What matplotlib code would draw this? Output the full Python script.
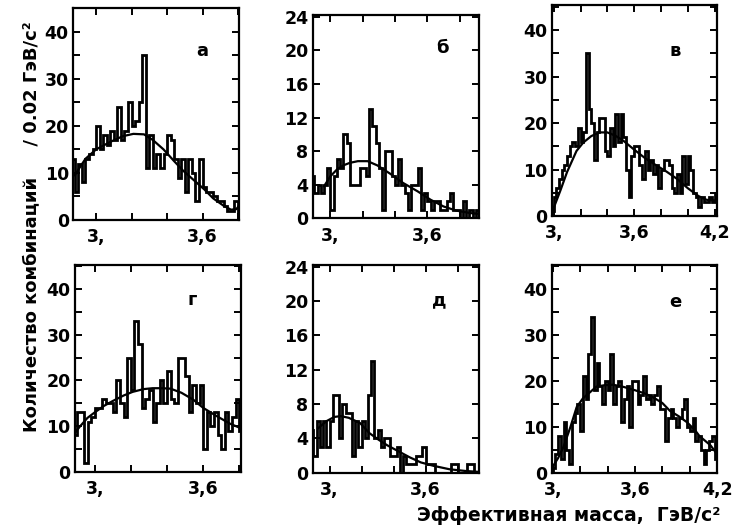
import numpy as np
import matplotlib
matplotlib.use("Agg")
import matplotlib.pyplot as plt

plt.rcParams["font.family"] = ["DejaVu Sans"]

# counts per 0.02 GeV bin
a_start = 2.86
a_counts = [13, 6, 12, 8, 13, 14, 15, 20, 15, 18, 16, 19, 17, 24, 17, 19, 25, 20, 21, 25,
            35, 11, 18, 11, 14, 11, 14, 18, 17, 13, 9, 13, 6, 13, 10, 4, 13, 7, 6, 6,
            5, 4, 4, 3, 2, 2, 4]
a_fit_x = [2.88, 2.905, 2.94, 3.0, 3.08, 3.15, 3.21, 3.27, 3.32, 3.38, 3.44, 3.49, 3.55,
           3.61, 3.66, 3.72, 3.76, 3.79, 3.805]
a_fit_y = [9.5, 11, 13, 15, 16.6, 17.8, 18.3, 18.2, 17, 15, 12.5, 10.5, 8.5, 6.5, 4.6,
           3.0, 2.2, 2.3, 3.0]

b_start = 2.88
b_counts = [5, 3, 4, 3, 4, 6, 1, 5, 7, 6, 10, 9, 4, 4, 4, 6, 6, 5, 13, 11,
            9, 6, 1, 8, 8, 5, 4, 7, 4, 3, 1, 4, 4, 6, 1, 3, 2, 1, 2, 2,
            1, 1, 2, 3, 1, 1, 0, 2, 0, 1, 0, 1]
b_fit_x = [2.96, 3.0, 3.04, 3.08, 3.12, 3.17, 3.23, 3.29, 3.37, 3.45, 3.54, 3.62, 3.70,
           3.78, 3.87, 3.93]
b_fit_y = [3.8, 5.0, 5.8, 6.3, 6.6, 6.8, 6.8, 6.3, 5.3, 4.2, 3.2, 2.2, 1.4, 0.9, 0.6, 0.5]

c_start = 2.98
c_counts = [1, 4, 6, 8, 10, 11, 13, 15, 16, 15, 19, 16, 18, 35, 23, 20, 12, 18, 21, 21,
            14, 13, 19, 15, 22, 16, 22, 17, 10, 4, 13, 15, 15, 11, 8, 14, 10, 12, 9, 11,
            6, 10, 12, 12, 11, 6, 5, 9, 5, 13, 7, 13, 10, 5, 4, 2, 4, 3, 3, 4,
            3, 5]
c_fit_x = [2.99, 3.05, 3.10, 3.17, 3.22, 3.28, 3.34, 3.40, 3.46, 3.52, 3.60, 3.68, 3.76,
           3.84, 3.92, 4.00, 4.08, 4.14, 4.22]
c_fit_y = [1.0, 5.5, 9.5, 14, 15.8, 17.2, 18, 18, 17.3, 16.2, 14.3, 12.5, 11, 9.6, 8, 6,
           4.3, 3.5, 3.3]

g_start = 2.88
g_counts = [8, 13, 13, 2, 11, 12, 14, 14, 16, 15, 15, 13, 20, 15, 12, 25, 18, 33, 28, 14,
            16, 18, 11, 15, 20, 15, 22, 16, 15, 25, 25, 21, 13, 19, 15, 19, 5, 13, 10, 13,
            8, 5, 13, 9, 12, 16, 9]
g_fit_x = [2.89, 2.92, 2.96, 3.0, 3.05, 3.10, 3.16, 3.21, 3.27, 3.32, 3.37, 3.42, 3.48,
           3.545, 3.60, 3.67, 3.75, 3.81]
g_fit_y = [8.5, 10, 11.8, 13, 14.4, 15.5, 16.7, 17.5, 18.1, 18.3, 18.3, 18.2, 17.3,
           15.8, 14, 12.3, 10.5, 9.5]

d_start = 2.88
d_counts = [5, 2, 6, 3, 6, 3, 6, 9, 9, 4, 8, 7, 7, 2, 6, 3, 6, 4, 9, 13,
            4, 5, 3, 4, 4, 2, 2, 3, 0, 2, 1, 1, 1, 2, 2, 3, 1, 1, 1, 0,
            0, 0, 0, 0, 1, 1, 0, 0, 0, 1, 1, 0]
d_fit_x = [2.93, 2.98, 3.03, 3.07, 3.12, 3.19, 3.25, 3.31, 3.36, 3.43, 3.50, 3.57, 3.65,
           3.75, 3.85, 3.93]
d_fit_y = [5.2, 6.0, 6.5, 6.6, 6.4, 5.8, 4.6, 3.8, 3.2, 2.5, 1.8, 1.2, 0.8, 0.4, 0.2, 0.1]

e_start = 3.00
e_counts = [1, 4, 8, 3, 11, 5, 2, 11, 13, 15, 9, 21, 16, 26, 34, 18, 24, 19, 15, 20,
            18, 26, 15, 19, 20, 11, 16, 19, 10, 20, 20, 15, 17, 21, 16, 17, 15, 17, 19, 14,
            14, 7, 12, 14, 12, 10, 12, 14, 16, 10, 9, 12, 7, 8, 5, 2, 5, 7, 8, 3]
e_fit_x = [3.0, 3.04, 3.08, 3.13, 3.175, 3.22, 3.27, 3.32, 3.38, 3.44, 3.52, 3.60, 3.67,
           3.73, 3.80, 3.855, 3.92, 3.98, 4.04, 4.07, 4.11, 4.15, 4.2]
e_fit_y = [1.3, 3.2, 5.7, 10, 14.3, 16.2, 17.5, 18.8, 19.1, 19.2, 18.7, 18, 17.3, 16.5,
           15.2, 13.5, 12.3, 11, 9.2, 8, 7, 6, 4]

letters = ["а", "б", "в", "г", "д", "е"]

# axes rectangles (fig fraction) and limits
panels = [
    dict(rect=[0.0995, 0.5825, 0.226, 0.402], xlim=(2.87, 3.805), ylim=(0, 45), yt=10, ym=5,
         start=a_start, counts=a_counts, fx=a_fit_x, fy=a_fit_y, lx=0.78, ly=0.80),
    dict(rect=[0.426, 0.586, 0.2266, 0.385], xlim=(2.89, 3.92), ylim=(0, 24.2), yt=4, ym=None,
         start=b_start, counts=b_counts, fx=b_fit_x, fy=b_fit_y, lx=0.78, ly=0.84),
    dict(rect=[0.7516, 0.590, 0.2256, 0.4004], xlim=(2.985, 4.22), ylim=(0, 45.4), yt=10, ym=5,
         start=c_start, counts=c_counts, fx=c_fit_x, fy=c_fit_y, lx=0.745, ly=0.78),
    dict(rect=[0.102, 0.105, 0.2257, 0.392], xlim=(2.89, 3.807), ylim=(0, 45.3), yt=10, ym=5,
         start=g_start, counts=g_counts, fx=g_fit_x, fy=g_fit_y, lx=0.71, ly=0.83),
    dict(rect=[0.426, 0.103, 0.227, 0.394], xlim=(2.895, 3.935), ylim=(0, 24.2), yt=4, ym=None,
         start=d_start, counts=d_counts, fx=d_fit_x, fy=d_fit_y, lx=0.76, ly=0.83),
    dict(rect=[0.7516, 0.103, 0.2256, 0.394], xlim=(2.993, 4.2), ylim=(0, 45.3), yt=10, ym=5,
         start=e_start, counts=e_counts, fx=e_fit_x, fy=e_fit_y, lx=0.745, ly=0.82),
]

fig = plt.figure(figsize=(7.34, 5.27), dpi=100)

for p, letter in zip(panels, letters):
    ax = fig.add_axes(p["rect"])
    counts = np.array(p["counts"])
    edges = p["start"] + 0.02 * np.arange(len(counts) + 1)
    ax.stairs(counts, edges, color="black", lw=2.0)
    ax.plot(p["fx"], p["fy"], color="black", lw=1.6)
    ax.set_xlim(*p["xlim"])
    ax.set_ylim(*p["ylim"])

    xt = np.round(np.arange(3.0, p["xlim"][1] + 0.001, 0.2), 1)
    ax.set_xticks(xt)
    lab = {3.0: "3,", 3.6: "3,6", 4.2: "4,2"}
    ax.set_xticklabels([lab.get(v, "") for v in xt])
    yt = np.arange(0, p["ylim"][1] + 0.01, p["yt"])
    ax.set_yticks(yt)
    ax.set_yticklabels([str(int(v)) for v in yt])
    if p["ym"]:
        ax.set_yticks(np.arange(5, p["ylim"][1], 10), minor=True)
    ax.tick_params(which="both", direction="in", top=True, right=True,
                   length=5, width=1.4, labelsize=12.5)
    ax.tick_params(axis="x", pad=6)
    ax.tick_params(axis="y", pad=3)
    for lbl in ax.get_xticklabels() + ax.get_yticklabels():
        lbl.set_fontweight("bold")
    for s in ax.spines.values():
        s.set_linewidth(1.6)
    ax.text(p["lx"], p["ly"], letter, transform=ax.transAxes, fontsize=13,
            fontweight="bold", ha="center", va="center")

fig.text(0.042, 0.57, "Количество комбинаций     / 0.02 ГэВ/с²", rotation=90,
         ha="center", va="center", fontsize=13, fontweight="bold")
fig.text(0.775, 0.022, "Эффективная масса,  ГэВ/с²", ha="center", va="center",
         fontsize=13.5, fontweight="bold")

fig.savefig("out.png", dpi=100)
